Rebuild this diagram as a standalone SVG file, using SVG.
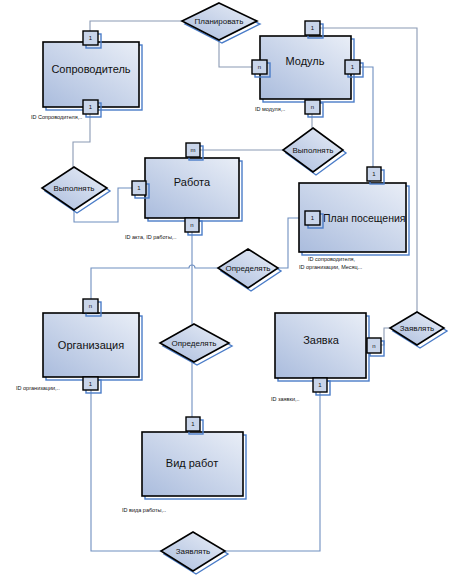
<svg xmlns="http://www.w3.org/2000/svg" width="450" height="577" viewBox="0 0 450 577">
<defs>
<linearGradient id="g" x1="0" y1="1" x2="1" y2="0">
<stop offset="0" stop-color="#aabcdd"/>
<stop offset="1" stop-color="#e9eef7"/>
</linearGradient>
<style>
.box{fill:url(#g);stroke:#000;stroke-width:1.6}
.sh{fill:none;stroke:#4a7cc8;stroke-width:1.4}
.bd{fill:#c9d5ea;stroke:#000;stroke-width:1.4}
.ln{fill:none;stroke:#6f8fc0;stroke-width:1.1}
.lg{fill:none;stroke:#8a9ab4;stroke-width:1.1}
.t{font-family:"Liberation Sans",Arial,sans-serif;fill:#111;text-anchor:middle}
.tb{font-size:11px}
.td{font-size:8px}
.tg{font-size:6px}
.tl{font-family:"Liberation Sans",Arial,sans-serif;fill:#111;font-size:5.5px}
</style>
</defs>
<g id="connectors">
<polyline class="lg" points="90,31 90,21 182,21"/>
<polyline class="lg" points="219,40 219,67 252,67"/>
<polyline class="lg" points="320,28 417,28 417,312"/>
<polyline class="ln" points="360,67 373,67 373,167"/>
<polyline class="lg" points="312,114 312,128"/>
<polyline class="lg" points="200,150 283,150"/>
<polyline class="lg" points="90,114 90,142 73,142 73,167"/>
<polyline class="ln" points="74,210 74,222 118,222 118,188 132,188"/>
<polyline class="ln" points="192,232 192,324"/>
<path class="ln" d="M218,268 H195 A3,3 0 0 0 189,268 H91 V299"/>
<polyline class="ln" points="305,218 288,218 288,268 278,268"/>
<polyline class="ln" points="192,362 192,417"/>
<polyline class="ln" points="91,390 91,551 161,551"/>
<polyline class="ln" points="225,551 320,551 320,392"/>
<polyline class="lg" points="381,345 384,345 384,328 390,328"/>
</g>
<g id="diamonds">
<g id="d-plan">
<polygon class="sh" points="222,6 260,24 222,43 185,24"/>
<polygon class="box" points="219,3 257,21 219,40 182,21"/>
<text class="t td" x="219" y="24">Планировать</text>
</g>
<g id="d-vyp-right">
<polygon class="sh" points="316,131 346,153 316,175 286,153"/>
<polygon class="box" points="313,128 343,150 313,172 283,150"/>
<text class="t td" x="313" y="153">Выполнять</text>
</g>
<g id="d-vyp-left">
<polygon class="sh" points="77,170 110,191 77,213 45,191"/>
<polygon class="box" points="74,167 107,188 74,210 42,188"/>
<text class="t td" x="74" y="191">Выполнять</text>
</g>
<g id="d-opr-upper">
<polygon class="sh" points="251,252 281,271 251,291 221,271"/>
<polygon class="box" points="248,249 278,268 248,288 218,268"/>
<text class="t td" x="248" y="271">Определять</text>
</g>
<g id="d-opr-mid">
<polygon class="sh" points="197,327 232,346 197,365 163,346"/>
<polygon class="box" points="194,324 229,343 194,362 160,343"/>
<text class="t td" x="194" y="346">Определять</text>
</g>
<g id="d-zay-right">
<polygon class="sh" points="420,315 447,331 420,348 393,331"/>
<polygon class="box" points="417,312 444,328 417,345 390,328"/>
<text class="t td" x="417" y="331">Заявлять</text>
</g>
<g id="d-zay-bottom">
<polygon class="sh" points="196,535 228,554 196,574 164,554"/>
<polygon class="box" points="193,532 225,551 193,571 161,551"/>
<text class="t td" x="193" y="554">Заявлять</text>
</g>
</g>
<g id="soprovoditel">
<rect class="sh" x="46" y="45" width="96" height="65"/>
<rect class="box" x="43" y="42" width="96" height="65"/>
<text class="t tb" x="91" y="73">Сопроводитель</text>
<rect class="sh" x="86" y="34" width="15" height="14"/>
<rect class="bd" x="83" y="31" width="15" height="14"/>
<text class="t tg" x="90.5" y="40">1</text>
<rect class="sh" x="86" y="103" width="15" height="14"/>
<rect class="bd" x="83" y="100" width="15" height="14"/>
<text class="t tg" x="90.5" y="109">1</text>
<text class="tl" x="31" y="119">ID Сопроводителя,..</text>
</g>
<g id="modul">
<rect class="sh" x="263" y="39" width="91" height="63"/>
<rect class="box" x="260" y="36" width="91" height="63"/>
<text class="t tb" x="305" y="65">Модуль</text>
<rect class="sh" x="308" y="24" width="15" height="14"/>
<rect class="bd" x="305" y="21" width="15" height="14"/>
<text class="t tg" x="312.5" y="30">1</text>
<rect class="sh" x="255" y="63" width="15" height="14"/>
<rect class="bd" x="252" y="60" width="15" height="14"/>
<text class="t tg" x="259.5" y="69">n</text>
<rect class="sh" x="348" y="63" width="15" height="14"/>
<rect class="bd" x="345" y="60" width="15" height="14"/>
<text class="t tg" x="352.5" y="69">1</text>
<rect class="sh" x="308" y="103" width="15" height="14"/>
<rect class="bd" x="305" y="100" width="15" height="14"/>
<text class="t tg" x="312.5" y="109">n</text>
<text class="tl" x="255" y="111">ID модуля,..</text>
</g>
<g id="rabota">
<rect class="sh" x="148" y="161" width="94" height="60"/>
<rect class="box" x="145" y="158" width="94" height="60"/>
<text class="t tb" x="192" y="186">Работа</text>
<rect class="sh" x="189" y="146" width="14" height="14"/>
<rect class="bd" x="186" y="143" width="14" height="14"/>
<text class="t tg" x="193" y="152">m</text>
<rect class="sh" x="135" y="184" width="14" height="14"/>
<rect class="bd" x="132" y="181" width="14" height="14"/>
<text class="t tg" x="139" y="190">1</text>
<rect class="sh" x="188" y="221" width="14" height="14"/>
<rect class="bd" x="185" y="218" width="14" height="14"/>
<text class="t tg" x="192" y="227">n</text>
<text class="tl" x="125" y="239">ID акта, ID работы,..</text>
</g>
<g id="plan">
<rect class="sh" x="302" y="186" width="107" height="69"/>
<rect class="box" x="299" y="183" width="107" height="69"/>
<text class="tl" style="font-size:10.5px" x="323" y="222">План посещения</text>
<rect class="sh" x="370" y="170" width="14" height="14"/>
<rect class="bd" x="367" y="167" width="14" height="14"/>
<text class="t tg" x="374" y="176">1</text>
<rect class="sh" x="308" y="214" width="15" height="14"/>
<rect class="bd" x="305" y="211" width="15" height="14"/>
<text class="t tg" x="312.5" y="220">1</text>
<text class="tl" x="308" y="261">ID сопроводителя,</text>
<text class="tl" x="299" y="269">ID организации, Месяц...</text>
</g>
<g id="organizaciya">
<rect class="sh" x="46" y="316" width="96" height="64"/>
<rect class="box" x="43" y="313" width="96" height="64"/>
<text class="t tb" x="91" y="349">Организация</text>
<rect class="sh" x="86" y="302" width="15" height="14"/>
<rect class="bd" x="83" y="299" width="15" height="14"/>
<text class="t tg" x="90.5" y="308">n</text>
<rect class="sh" x="86" y="380" width="15" height="13"/>
<rect class="bd" x="83" y="377" width="15" height="13"/>
<text class="t tg" x="90.5" y="386">1</text>
<text class="tl" x="16" y="390">ID организации,..</text>
</g>
<g id="zayavka">
<rect class="sh" x="278" y="316" width="91" height="65"/>
<rect class="box" x="275" y="313" width="91" height="65"/>
<text class="t tb" x="321" y="344">Заявка</text>
<rect class="sh" x="370" y="341" width="14" height="15"/>
<rect class="bd" x="367" y="338" width="14" height="15"/>
<text class="t tg" x="374" y="348">n</text>
<rect class="sh" x="316" y="381" width="14" height="14"/>
<rect class="bd" x="313" y="378" width="14" height="14"/>
<text class="t tg" x="320" y="387">1</text>
<text class="tl" x="271" y="401">ID заявки,..</text>
</g>
<g id="vid-rabot">
<rect class="sh" x="145" y="435" width="101" height="64"/>
<rect class="box" x="142" y="432" width="101" height="64"/>
<text class="t tb" x="192" y="467">Вид работ</text>
<rect class="sh" x="189" y="420" width="14" height="14"/>
<rect class="bd" x="186" y="417" width="14" height="14"/>
<text class="t tg" x="193" y="426">1</text>
<text class="tl" x="122" y="512">ID вида работы,..</text>
</g>
</svg>
